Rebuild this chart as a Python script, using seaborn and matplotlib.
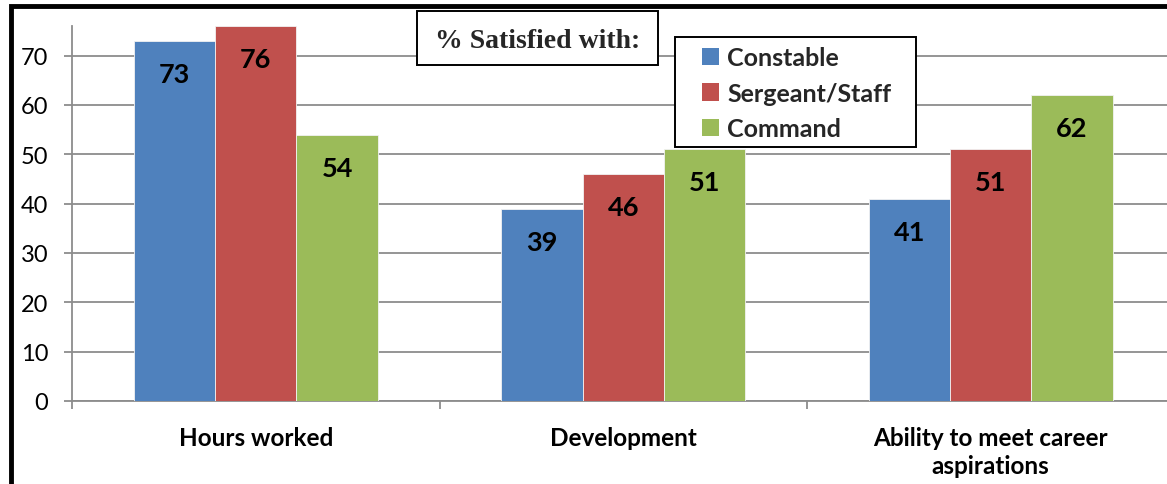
import matplotlib
matplotlib.use("Agg")
import matplotlib.pyplot as plt
import seaborn as sns
import pandas as pd
from matplotlib.patches import Rectangle, Patch

categories = ["Hours worked", "Development", "Ability to meet career\naspirations"]
ranks = ["Constable", "Sergeant/Staff", "Command"]
constable = [73, 39, 41]
sergeant_staff = [76, 46, 51]
command = [54, 51, 62]
colors = ["#4F81BD", "#C0504D", "#9BBB59"]
y_ticks = [0, 10, 20, 30, 40, 50, 60, 70]

df = pd.DataFrame({
    "category": categories * 3,
    "rank": [r for r in ranks for _ in categories],
    "value": constable + sergeant_staff + command,
})

sns.set_theme(style="white")
plt.rcParams["font.family"] = ["Lato", "DejaVu Sans"]

W, H = 1167, 485
fig = plt.figure(figsize=(W / 100, H / 100), dpi=100)
ax = fig.add_axes([72 / W, 83 / H, 1102.5 / W, 375 / H])

sns.barplot(data=df, x="category", y="value", hue="rank", hue_order=ranks,
            order=categories, palette=colors, width=0.664, saturation=1,
            edgecolor="#f2f2f2", linewidth=0.6, ax=ax, legend=False, zorder=3)

ax.set_xlim(-0.5, 2.5)
ax.set_ylim(0, 76)
ax.set_yticks(y_ticks)
ax.set_xlabel("")
ax.set_ylabel("")

# value labels just inside the top of each bar
for cont in ax.containers:
    for bar in cont:
        v = bar.get_height()
        ax.annotate(f"{v:.0f}", xy=(bar.get_x() + bar.get_width() / 2, v),
                    xytext=(0, -33), textcoords="offset pixels",
                    ha="center", va="center", fontsize=19.5, fontweight="bold",
                    color="black", zorder=5)

# grid and axes styling
ax.yaxis.grid(True, color="#8c8c8c", linewidth=1.3, zorder=0)
ax.set_axisbelow(True)
for side in ["top", "right"]:
    ax.spines[side].set_visible(False)
for side in ["left", "bottom"]:
    ax.spines[side].set_color("#8c8c8c")
    ax.spines[side].set_linewidth(1.3)

ax.tick_params(axis="y", which="both", left=True, length=6, width=1.3,
               color="#8c8c8c", labelsize=17, pad=11, labelcolor="black")
# category boundary ticks on the x axis
ax.set_xticks([-0.5, 0.5, 1.5, 2.5], minor=True)
ax.tick_params(axis="x", which="minor", bottom=True, length=6, width=1.3,
               color="#8c8c8c")
ax.tick_params(axis="x", which="major", bottom=False, labelsize=17.5, pad=12,
               labelcolor="black")
for lbl in ax.get_xticklabels():
    lbl.set_fontweight("bold")
    lbl.set_linespacing(1.25)
    lbl.set_va("top")

# title box
fig.patches.append(Rectangle((417 / W, 1 - 66 / H), 241 / W, 54 / H,
                             transform=fig.transFigure, facecolor="white",
                             edgecolor="black", linewidth=1.4, zorder=10))
fig.text(537.5 / W, 1 - 41 / H, "% Satisfied with:", ha="center", va="center",
         fontsize=20, fontweight="bold", family=["Liberation Serif"], zorder=11)

# legend box
fig.patches.append(Rectangle((675 / W, 1 - 148 / H), 241 / W, 110 / H,
                             transform=fig.transFigure, facecolor="white",
                             edgecolor="black", linewidth=1.4, zorder=10))
handles = [Patch(facecolor=c, edgecolor="none", label=r) for c, r in zip(colors, ranks)]
leg = fig.legend(handles=handles, loc="upper left",
                 bbox_to_anchor=(702 / W, 1 - 47 / H),
                 frameon=False, prop={"weight": "bold", "size": 18},
                 handlelength=0.7, handleheight=0.7, handletextpad=0.3,
                 labelspacing=0.5, borderpad=0, borderaxespad=0)
leg.set_zorder(12)

# outer frame of the figure (left and top edges visible)
fig.patches.append(Rectangle((11 / W, -0.1), 1.2, 1 - 7 / H + 0.1,
                             transform=fig.transFigure, fill=False,
                             edgecolor="black", linewidth=3.5, zorder=20))

fig.savefig("out.png", dpi=100, facecolor="white")
